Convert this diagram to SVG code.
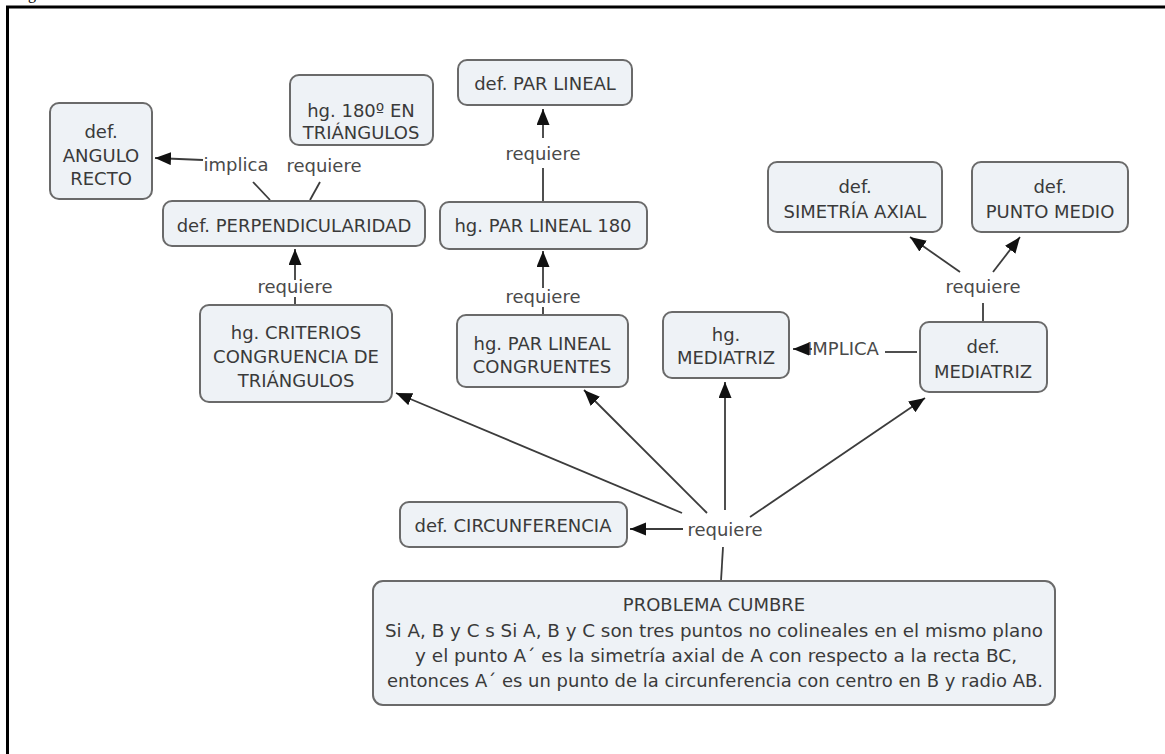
<svg xmlns="http://www.w3.org/2000/svg" width="1165" height="754" viewBox="0 0 1165 754">
<style>
.box{fill:#eef2f6;stroke:#6a6a6a;stroke-width:2}
.t{font-family:"DejaVu Sans","Verdana",sans-serif;font-size:18px;fill:#3a3a3a;text-anchor:middle}
.lb{font-family:"DejaVu Sans","Verdana",sans-serif;font-size:18px;fill:#4a4a4a;text-anchor:middle}
.c{stroke:#3c3c3c;stroke-width:1.8;fill:none}
.a{stroke:#3c3c3c;stroke-width:1.8;fill:none;marker-end:url(#ah)}
</style>
<defs>
<marker id="ah" markerUnits="userSpaceOnUse" markerWidth="17" markerHeight="14" refX="16" refY="6.5" orient="auto">
<path d="M0,0 L16,6.5 L0,13 Z" fill="#111"/>
</marker>
</defs>
<rect width="1165" height="754" fill="#ffffff"/>
<text x="28" y="-1" style="font-family:'Liberation Serif',serif;font-size:16px;fill:#000">g</text>
<path d="M7.5,754 V7 H1165" fill="none" stroke="#000" stroke-width="3"/>

<g id="connectors">
<line class="a" x1="203" y1="160" x2="155" y2="158"/>
<line class="c" x1="270" y1="200" x2="253" y2="182"/>
<line class="c" x1="310" y1="200" x2="320" y2="182"/>
<line class="a" x1="543" y1="138" x2="543" y2="109"/>
<line class="c" x1="543" y1="202" x2="543" y2="168"/>
<line class="a" x1="543" y1="288" x2="543" y2="251"/>
<line class="c" x1="543" y1="315" x2="543" y2="307"/>
<line class="a" x1="295" y1="280" x2="295" y2="249"/>
<line class="c" x1="295" y1="305" x2="295" y2="297"/>
<line class="a" x1="682" y1="513" x2="396" y2="393"/>
<line class="a" x1="707" y1="513" x2="584" y2="390"/>
<line class="a" x1="725" y1="510" x2="725" y2="382"/>
<line class="a" x1="750" y1="517" x2="925" y2="398"/>
<line class="a" x1="683" y1="529" x2="630" y2="529"/>
<line class="c" x1="723" y1="547" x2="721" y2="581"/>
<line class="c" x1="917" y1="352" x2="885" y2="352"/>
<line class="c" x1="983" y1="322" x2="983" y2="303"/>
<line class="a" x1="960" y1="272" x2="910" y2="237"/>
<line class="a" x1="993" y1="272" x2="1020" y2="237"/>
</g>

<g id="labels">
<g id="l_implica"><text class="lb" x="236" y="171">implica</text></g>
<g id="l_req_180"><text class="lb" x="324" y="172">requiere</text></g>
<g id="l_req_parlineal"><text class="lb" x="543" y="160">requiere</text></g>
<g id="l_req_pl180"><text class="lb" x="543" y="303">requiere</text></g>
<g id="l_req_perp"><text class="lb" x="295" y="293">requiere</text></g>
<g id="l_req_central"><text class="lb" x="725" y="536">requiere</text></g>
<g id="l_implica2"><text class="lb" x="807" y="355" style="text-anchor:start">IMPLICA</text>
<line class="a" x1="812" y1="349" x2="793" y2="349"/></g>
<g id="l_req_defmed"><text class="lb" x="983" y="293">requiere</text></g>
</g>

<g id="n_angulo"><rect class="box" x="50" y="103" width="102" height="96" rx="9"/>
<text class="t" x="101" y="138">def.</text><text class="t" x="101" y="162">ANGULO</text><text class="t" x="101" y="185">RECTO</text></g>
<g id="n_180"><rect class="box" x="290" y="75" width="143" height="70" rx="9"/>
<text class="t" x="361" y="117">hg. 180º EN</text><text class="t" x="361" y="139">TRIÁNGULOS</text></g>
<g id="n_perp"><rect class="box" x="163" y="201" width="262" height="45" rx="9"/>
<text class="t" x="294" y="232">def. PERPENDICULARIDAD</text></g>
<g id="n_parlineal"><rect class="box" x="458" y="60" width="174" height="45" rx="9"/>
<text class="t" x="545" y="90">def. PAR LINEAL</text></g>
<g id="n_pl180"><rect class="box" x="440" y="202" width="207" height="47" rx="9"/>
<text class="t" x="543" y="232">hg. PAR LINEAL 180</text></g>
<g id="n_plcong"><rect class="box" x="457" y="315" width="171" height="72" rx="9"/>
<text class="t" x="542" y="350">hg. PAR LINEAL</text><text class="t" x="542" y="373">CONGRUENTES</text></g>
<g id="n_criterios"><rect class="box" x="200" y="305" width="192" height="97" rx="9"/>
<text class="t" x="296" y="339">hg. CRITERIOS</text><text class="t" x="296" y="363">CONGRUENCIA DE</text><text class="t" x="296" y="387">TRIÁNGULOS</text></g>
<g id="n_hgmed"><rect class="box" x="663" y="312" width="126" height="66" rx="9"/>
<text class="t" x="726" y="341">hg.</text><text class="t" x="726" y="364">MEDIATRIZ</text></g>
<g id="n_defmed"><rect class="box" x="920" y="322" width="127" height="70" rx="9"/>
<text class="t" x="983" y="353">def.</text><text class="t" x="983" y="378">MEDIATRIZ</text></g>
<g id="n_sim"><rect class="box" x="768" y="162" width="174" height="70" rx="9"/>
<text class="t" x="855" y="193">def.</text><text class="t" x="855" y="218">SIMETRÍA AXIAL</text></g>
<g id="n_punto"><rect class="box" x="972" y="162" width="156" height="70" rx="9"/>
<text class="t" x="1050" y="193">def.</text><text class="t" x="1050" y="218">PUNTO MEDIO</text></g>
<g id="n_circ"><rect class="box" x="400" y="502" width="227" height="45" rx="9"/>
<text class="t" x="513" y="532">def. CIRCUNFERENCIA</text></g>
<g id="n_problema"><rect class="box" x="373" y="581" width="682" height="124" rx="10"/>
<text class="t" x="714" y="611">PROBLEMA CUMBRE</text>
<text class="t" x="714" y="637" textLength="658" lengthAdjust="spacingAndGlyphs">Si A, B y C s Si A, B y C son tres puntos no colineales en el mismo plano</text>
<text class="t" x="716" y="662" textLength="602" lengthAdjust="spacingAndGlyphs">y el punto A´ es la simetría axial de A con respecto a la recta BC,</text>
<text class="t" x="715" y="687" textLength="656" lengthAdjust="spacingAndGlyphs">entonces A´ es un punto de la circunferencia con centro en B y radio AB.</text>
</g>
</svg>
